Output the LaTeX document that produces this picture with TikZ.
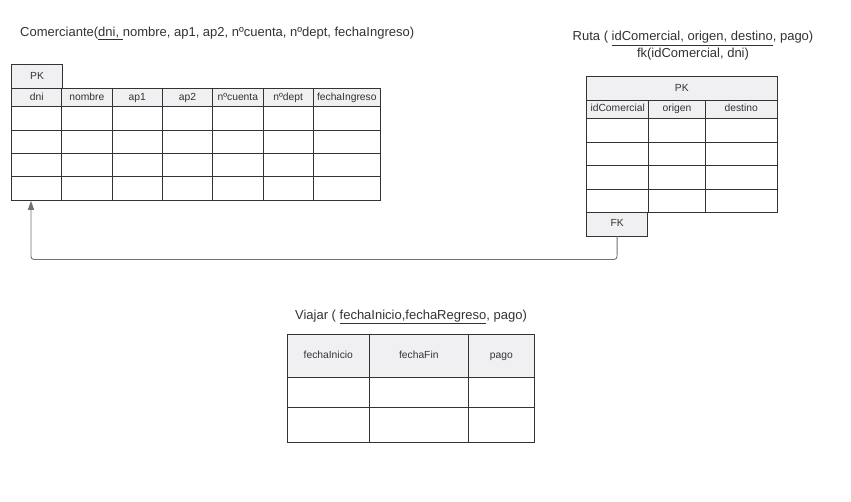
\documentclass[tikz,border=0pt]{standalone}
\usepackage{fontspec}
\setmainfont{Liberation Sans}
\usetikzlibrary{arrows.meta}
\definecolor{linec}{HTML}{333333}
\definecolor{headf}{HTML}{F0F0F2}
\definecolor{textc}{HTML}{333333}
\definecolor{connc}{HTML}{707070}
\newcommand\mkcell[7]{\node[#7, minimum width={#4-#2}, minimum height={#5-#3}] (#1) at ({(#2+#4)/2},{(#3+#5)/2}) {#6};}
\begin{document}
\begin{tikzpicture}[x=1pt,y=-1pt]
\tikzset{
  cell/.style={draw=linec, line width=0.9pt, fill=white, inner sep=0pt, outer sep=0pt, text=textc, font=\fontsize{10.3}{12}\selectfont, text height=7.6pt, text depth=2.2pt},
  hcell/.style={cell, fill=headf},
  title/.style={inner sep=0pt, text=textc, font=\fontsize{13}{16.5}\selectfont},
  conn/.style={draw=connc, line width=0.9pt, rounded corners=3pt, -{Triangle[length=9pt,width=6pt]}},
}
\useasboundingbox[fill=white] (0,0) rectangle (851,501);

% ---------- Comerciante ----------
\node[title, anchor=west] (tcom) at (20,33.5) {Comerciante(\underline{dni, }nombre, ap1, ap2, nºcuenta, nºdept, fechaIngreso)};
\mkcell{cpk}{11.7}{64.3}{62.3}{88.3}{PK}{hcell}
\mkcell{ch1}{11.7}{88.3}{61.7}{106.7}{dni}{hcell}
\mkcell{ch2}{61.7}{88.3}{112}{106.7}{nombre}{hcell}
\mkcell{ch3}{112}{88.3}{162.3}{106.7}{ap1}{hcell}
\mkcell{ch4}{162.3}{88.3}{212.7}{106.7}{ap2}{hcell}
\mkcell{ch5}{212.7}{88.3}{263}{106.7}{nºcuenta}{hcell}
\mkcell{ch6}{263}{88.3}{313.3}{106.7}{nºdept}{hcell}
\mkcell{ch7}{313.3}{88.3}{380.3}{106.7}{fechaIngreso}{hcell}
\foreach \ya/\yb/\r in {106.7/130/1,130/153.3/2,153.3/176.7/3,176.7/200.3/4}{
  \foreach \xa/\xb/\c in {11.7/61.7/1,61.7/112/2,112/162.3/3,162.3/212.7/4,212.7/263/5,263/313.3/6,313.3/380.3/7}{
    \mkcell{c\r-\c}{\xa}{\ya}{\xb}{\yb}{}{cell}
  }
}

% ---------- Ruta ----------
\node[title, align=center] (truta) at (693,45.5) {Ruta ( \underline{idComercial, origen, destino}, pago)\\fk(idComercial, dni)};
\mkcell{rpk}{586.7}{76.7}{777}{100}{PK}{hcell}
\mkcell{rh1}{586.7}{100}{648.7}{118.3}{idComercial}{hcell}
\mkcell{rh2}{648.7}{100}{705.3}{118.3}{origen}{hcell}
\mkcell{rh3}{705.3}{100}{777}{118.3}{destino}{hcell}
\foreach \ya/\yb/\r in {118.3/142/1,142/165.7/2,165.7/189/3,189/212.3/4}{
  \foreach \xa/\xb/\c in {586.7/648.7/1,648.7/705.3/2,705.3/777/3}{
    \mkcell{r\r-\c}{\xa}{\ya}{\xb}{\yb}{}{cell}
  }
}
\mkcell{rfk}{586.7}{212.3}{647.7}{236}{FK}{hcell}

% ---------- Viajar ----------
\node[title] (tvia) at (411,317) {Viajar ( \underline{fechaInicio,fechaRegreso}, pago)};
\mkcell{vh1}{287.3}{334.7}{369.3}{377.3}{fechaInicio}{hcell}
\mkcell{vh2}{369.3}{334.7}{468.3}{377.3}{fechaFin}{hcell}
\mkcell{vh3}{468.3}{334.7}{534.3}{377.3}{pago}{hcell}
\foreach \ya/\yb/\r in {377.3/407.3/1,407.3/442.7/2}{
  \foreach \xa/\xb/\c in {287.3/369.3/1,369.3/468.3/2,468.3/534.3/3}{
    \mkcell{v\r-\c}{\xa}{\ya}{\xb}{\yb}{}{cell}
  }
}

% ---------- connector ----------
\coordinate (cend) at (31,200.8);
\draw[conn] (rfk.south) -- (617,259.5) -| (cend);
\end{tikzpicture}
\end{document}
